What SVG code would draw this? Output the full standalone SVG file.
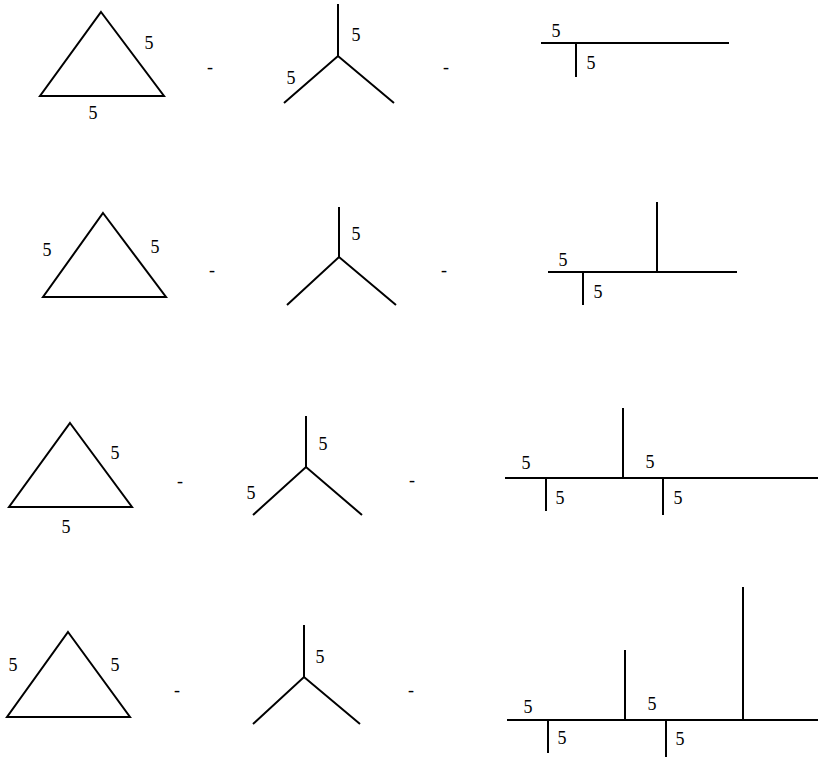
<svg xmlns="http://www.w3.org/2000/svg" width="818" height="758" viewBox="0 0 818 758">
<style>
.s{fill:none;stroke:#000;stroke-width:2;stroke-linecap:butt;stroke-linejoin:miter}
text{font-family:"Times New Roman","Liberation Serif","Noto Serif",serif;font-size:18px;fill:#000;text-anchor:middle}
</style>
<rect width="818" height="758" fill="#fff"/>
<g id="row1">
  <g id="tri1"><path class="s" d="M101,12 L164,96 L40,96 Z"/><text x="149" y="49">5</text><text x="93" y="119">5</text></g>
  <text x="210" y="73">-</text>
  <g id="y1"><path class="s" d="M338,4 V56 M284,103 L338,56 L394,103"/><text x="356" y="41">5</text><text x="291" y="84">5</text></g>
  <text x="446" y="73">-</text>
  <g id="chain1"><path class="s" d="M541,43 H729 M576,43 V77"/><text x="556" y="37">5</text><text x="591" y="69">5</text></g>
</g>
<g id="row2">
  <g id="tri2"><path class="s" d="M103,213 L166,297 L43,297 Z"/><text x="47" y="256">5</text><text x="155" y="253">5</text></g>
  <text x="212" y="276">-</text>
  <g id="y2"><path class="s" d="M339,207 V257 M287,305 L339,257 L396,305"/><text x="356" y="240">5</text></g>
  <text x="444" y="276">-</text>
  <g id="chain2"><path class="s" d="M548,272 H737 M583,272 V305 M657,202 V272"/><text x="563" y="266">5</text><text x="598" y="298">5</text></g>
</g>
<g id="row3">
  <g id="tri3"><path class="s" d="M70,423 L132,507 L9,507 Z"/><text x="115" y="459">5</text><text x="66" y="533">5</text></g>
  <text x="180" y="487">-</text>
  <g id="y3"><path class="s" d="M306,416 V467 M253,515 L306,467 L362,515"/><text x="323" y="450">5</text><text x="251" y="499">5</text></g>
  <text x="412" y="486">-</text>
  <g id="chain3"><path class="s" d="M505,478 H818 M546,478 V511 M623,408 V478 M663,478 V515"/><text x="526" y="469">5</text><text x="560" y="504">5</text><text x="650" y="468">5</text><text x="678" y="504">5</text></g>
</g>
<g id="row4">
  <g id="tri4"><path class="s" d="M68,632 L130,717 L7,717 Z"/><text x="13" y="671">5</text><text x="115" y="671">5</text></g>
  <text x="177" y="696">-</text>
  <g id="y4"><path class="s" d="M304,625 V677 M253,724 L304,677 L360,724"/><text x="320" y="663">5</text></g>
  <text x="411" y="696">-</text>
  <g id="chain4"><path class="s" d="M507,720 H818 M548,720 V753 M625,650 V720 M666,720 V757 M743,587 V720"/><text x="528" y="713">5</text><text x="562" y="744">5</text><text x="652" y="710">5</text><text x="680" y="745">5</text></g>
</g>
<g id="connectors"></g>
</svg>
